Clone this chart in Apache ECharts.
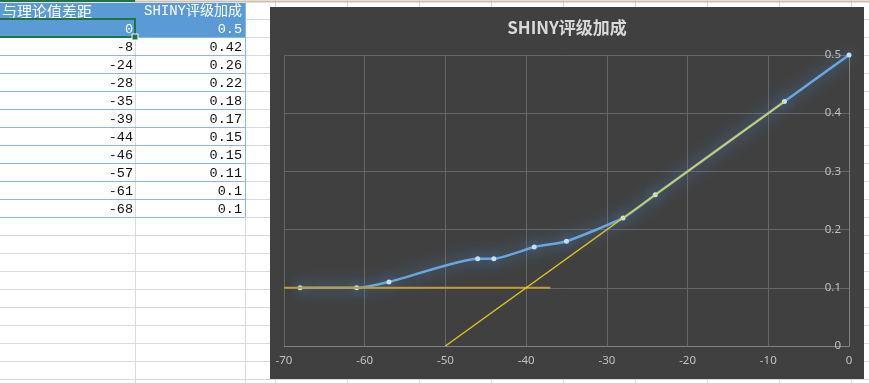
<!DOCTYPE html>
<html>
<head>
<meta charset="utf-8">
<title>SHINY评级加成</title>
<script src="https://cdn.jsdelivr.net/npm/echarts@6/dist/echarts.min.js"></script>
<style>
  html, body { margin: 0; padding: 0; background: #fff; }
  #main { width: 869px; height: 383px; }
</style>
</head>
<body>
<div id="main"></div>
<script>
// table / chart data
const headers = ['与理论值差距', 'SHINY评级加成'];
const diffs = [0, -8, -24, -28, -35, -39, -44, -46, -57, -61, -68];
const bonus = [0.5, 0.42, 0.26, 0.22, 0.18, 0.17, 0.15, 0.15, 0.11, 0.1, 0.1];
// the two yellow helper lines drawn in the chart
const floorLine = [[-70, 0.1], [-37, 0.1]];
const slopeLine = [[-50, 0], [-8, 0.42]];

// sheet layout
const ROW_TOP = 19, ROW_H = 18;
const COL_A = 135, COL_B = 245;
const GRID_GRAY = '#dadada';
const BLUE = '#5b9bd5';
const GREEN = '#217346';
const cellFont = '13.5px "Liberation Mono", "Noto Sans CJK SC", monospace';

const sheet = [];
// background grid lines of the sheet
for (let k = 0; k < 21; k++) {
  const y = ROW_TOP + k * ROW_H + 0.5;
  sheet.push({ type: 'line', z: -20, shape: { x1: 0, y1: y, x2: 869, y2: y }, style: { stroke: GRID_GRAY, lineWidth: 1 } });
}
[COL_A, COL_B].concat([275, 347, 419, 491, 563, 635, 707, 779, 851]).forEach(x => {
  sheet.push({ type: 'line', z: -20, shape: { x1: x + 0.5, y1: 0, x2: x + 0.5, y2: 383 }, style: { stroke: GRID_GRAY, lineWidth: 1 } });
});
sheet.push({ type: 'line', z: -19, shape: { x1: 0, y1: 1.5, x2: 869, y2: 1.5 }, style: { stroke: '#c9bfb3', lineWidth: 2 } });

// header + first row fill
sheet.push({ type: 'rect', z: -18, shape: { x: 0, y: 3, width: COL_B, height: ROW_TOP - 3 }, style: { fill: BLUE } });
sheet.push({ type: 'rect', z: -18, shape: { x: 0, y: ROW_TOP, width: COL_B, height: ROW_H }, style: { fill: BLUE } });
sheet.push({ type: 'text', z: -17, x: 2, y: 11, style: { text: headers[0], fill: '#fff', font: '15px "Noto Sans CJK SC"', textAlign: 'left', textVerticalAlign: 'middle' } });
sheet.push({ type: 'text', z: -17, x: 242, y: 11, style: { text: headers[1], fill: '#fff', font: '14px "Liberation Mono", "Noto Sans CJK SC"', textAlign: 'right', textVerticalAlign: 'middle' } });

// table rows
diffs.forEach((d, i) => {
  const yTop = ROW_TOP + i * ROW_H;
  const col = i === 0 ? '#fff' : '#111';
  sheet.push({ type: 'text', z: -17, x: 133, y: yTop + 10, style: { text: String(d), fill: col, font: cellFont, textAlign: 'right', textVerticalAlign: 'middle' } });
  sheet.push({ type: 'text', z: -17, x: 242, y: yTop + 10, style: { text: String(bonus[i]), fill: col, font: cellFont, textAlign: 'right', textVerticalAlign: 'middle' } });
  sheet.push({ type: 'line', z: -17, shape: { x1: 0, y1: yTop + ROW_H + 0.5, x2: COL_B, y2: yTop + ROW_H + 0.5 }, style: { stroke: '#8eb4e3', lineWidth: 1 } });
});
const tableBottom = ROW_TOP + diffs.length * ROW_H;
sheet.push({ type: 'line', z: -17, shape: { x1: COL_B + 0.5, y1: 3, x2: COL_B + 0.5, y2: tableBottom }, style: { stroke: '#8eb4e3', lineWidth: 1 } });

// selected cell
sheet.push({ type: 'line', z: -16, shape: { x1: 0, y1: 1, x2: COL_A, y2: 1 }, style: { stroke: GREEN, lineWidth: 2 } });
sheet.push({ type: 'rect', z: -16, shape: { x: -3, y: ROW_TOP, width: COL_A + 3, height: ROW_H }, style: { fill: 'none', stroke: GREEN, lineWidth: 2 } });
sheet.push({ type: 'rect', z: -15, shape: { x: 132, y: ROW_TOP + ROW_H - 3, width: 6, height: 6 }, style: { fill: GREEN, stroke: '#fff', lineWidth: 1 } });

// chart area
sheet.push({ type: 'rect', z: -10, shape: { x: 270, y: 7, width: 594, height: 372 }, style: { fill: '#404040' } });
sheet.push({ type: 'text', z: 5, x: 567, y: 28, style: { text: 'SHINY评级加成', fill: '#d9d9d9', font: 'bold 17px "Noto Sans CJK SC"', textAlign: 'center', textVerticalAlign: 'middle' } });

const chart = echarts.init(document.getElementById('main'));
chart.setOption({
  animation: false,
  graphic: { elements: sheet },
  grid: { left: 284, right: 20, top: 55, bottom: 37 },
  xAxis: {
    type: 'value', min: -70, max: 0, interval: 10,
    axisLine: { show: true, lineStyle: { color: '#808080', width: 1 } },
    axisTick: { show: false },
    axisLabel: { color: '#c0c0c0', fontSize: 11.5, margin: 9, fontFamily: 'Noto Sans' },
    splitLine: { show: true, lineStyle: { color: '#666666', width: 1 } }
  },
  yAxis: {
    type: 'value', min: 0, max: 0.5, interval: 0.1, position: 'right',
    axisLine: { show: true, lineStyle: { color: '#808080', width: 1 } },
    axisTick: { show: false },
    axisLabel: { inside: true, color: '#c0c0c0', fontSize: 11.5, margin: 8, fontFamily: 'Noto Sans' },
    splitLine: { show: true, lineStyle: { color: '#666666', width: 1 } }
  },
  series: [
    {
      type: 'line', z: 3,
      data: diffs.map((d, i) => [d, bonus[i]]),
      smooth: 0.18,
      symbol: 'circle', symbolSize: 5,
      lineStyle: { color: '#6aa7e0', width: 2.5, shadowColor: 'rgba(80,150,225,1)', shadowBlur: 16 },
      itemStyle: { color: '#c6dff5', shadowColor: 'rgba(80,150,225,1)', shadowBlur: 12 }
    },
    {
      type: 'line', z: 4, data: floorLine, symbol: 'none',
      lineStyle: { color: '#c09c30', width: 2 }
    },
    {
      type: 'line', z: 4, data: slopeLine, symbol: 'none',
      lineStyle: { color: '#f5d820', width: 1.5, opacity: 0.85 }
    }
  ]
});
</script>
</body>
</html>
